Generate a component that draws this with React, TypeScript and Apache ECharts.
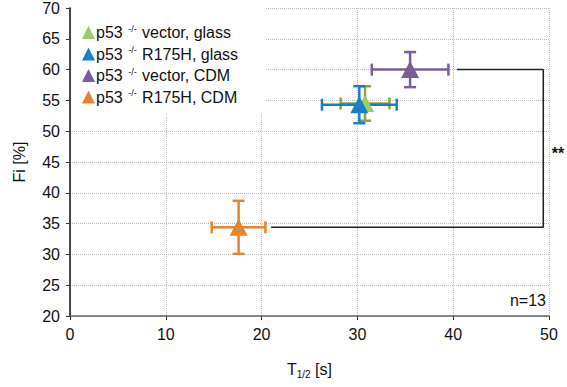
import React, { useEffect, useRef } from "react";
import * as echarts from "echarts";

const categories = [
  "p53 -/- vector, glass",
  "p53 -/- R175H, glass",
  "p53 -/- vector, CDM",
  "p53 -/- R175H, CDM",
];
const tHalf = [30.8, 30.2, 35.5, 17.6];
const tHalfErr = [2.55, 3.9, 4.0, 2.8];
const fi = [54.5, 54.3, 60.0, 34.4];
const fiErr = [2.8, 3.0, 2.85, 4.3];
const markerColors = ["#9dcc66", "#1a7fc4", "#7a5e99", "#e8832e"];
const barColors = ["#87a63e", "#1a80c6", "#7a5e99", "#e8832e"];

const bracketX = [40.4, 49.4, 49.4, 21.0];
const bracketY = [60, 60, 34.4, 34.4];

const yTicks = { min: 20, max: 70, interval: 5 };
const xTicks = { min: 0, max: 50, interval: 10 };

const FONT = "'Liberation Sans', Arial, Helvetica, sans-serif";

export default function App() {
  const ref = useRef<HTMLDivElement>(null);
  useEffect(() => {
    document.body.style.margin = "0";
    const chart = echarts.init(ref.current!, null, { renderer: "svg" });
    const series: any[] = [];
    categories.forEach((name, i) => {
      series.push({
        type: "custom",
        name: "err" + i,
        data: [[tHalf[i], fi[i], tHalfErr[i], fiErr[i]]],
        renderItem: (params: any, api: any) => {
          const x = api.value(0), y = api.value(1), ex = api.value(2), ey = api.value(3);
          const c = api.coord([x, y]);
          const l = api.coord([x - ex, y]);
          const r = api.coord([x + ex, y]);
          const t = api.coord([x, y + ey]);
          const b = api.coord([x, y - ey]);
          const cap = 6;
          const style = { stroke: barColors[i], lineWidth: 2.5 };
          const ln = (x1: number, y1: number, x2: number, y2: number) => ({
            type: "line",
            shape: { x1, y1, x2, y2 },
            style,
          });
          return {
            type: "group",
            children: [
              ln(l[0], c[1], r[0], c[1]),
              ln(c[0], t[1], c[0], b[1]),
              ln(l[0], c[1] - cap, l[0], c[1] + cap),
              ln(r[0], c[1] - cap, r[0], c[1] + cap),
              ln(c[0] - cap, t[1], c[0] + cap, t[1]),
              ln(c[0] - cap, b[1], c[0] + cap, b[1]),
            ],
          };
        },
        silent: true,
      });
      series.push({
        type: "scatter",
        name,
        data: [[tHalf[i], fi[i]]],
        symbol: "triangle",
        symbolSize: [18, 17],
        itemStyle: { color: markerColors[i], opacity: 1 },
      });
    });
    series.push({
      type: "line",
      name: "bracket",
      data: bracketX.map((x, i) => [x, bracketY[i]]),
      symbol: "none",
      lineStyle: { color: "#222", width: 1.5 },
      silent: true,
    });

    chart.setOption({
      animation: false,
      textStyle: { fontFamily: FONT },
      grid: { left: 70, right: 18, top: 8, bottom: 71 },
      legend: {
        data: categories,
        left: 72,
        top: 8,
        orient: "vertical",
        icon: "triangle",
        itemWidth: 13,
        itemHeight: 13,
        itemGap: 5,
        padding: [16, 28, 8, 10],
        backgroundColor: "#ffffff",
        formatter: (n: string) => n.replace("-/-", "{sup|-/-}"),
        textStyle: {
          fontFamily: FONT,
          fontSize: 16,
          color: "#111",
          padding: [0, 0, 0, -4],
          rich: {
            sup: { fontSize: 9, fontFamily: FONT, color: "#111", padding: [0, 1, 8, 1] },
          },
        },
      },
      xAxis: {
        type: "value",
        ...xTicks,
        name: "T{sub|1/2} [s]",
        nameLocation: "middle",
        nameGap: 44,
        nameTextStyle: {
          fontFamily: FONT,
          fontSize: 16,
          color: "#111",
          rich: { sub: { fontSize: 10, fontFamily: FONT, color: "#111", padding: [9, 0, 0, 0] } },
        },
        axisLine: { lineStyle: { color: "#666", width: 1.5 } },
        axisTick: { show: true, length: 4, lineStyle: { color: "#333" } },
        axisLabel: { fontSize: 16, color: "#111", margin: 10, fontFamily: FONT },
        splitLine: { show: true, lineStyle: { color: "#bbb", type: "dotted", width: 1 } },
      },
      yAxis: {
        type: "value",
        ...yTicks,
        name: "Fi [%]",
        nameLocation: "middle",
        nameGap: 43,
        nameTextStyle: { fontFamily: FONT, fontSize: 16, color: "#111" },
        axisLine: { show: true, lineStyle: { color: "#111", width: 1.5 } },
        axisTick: { show: true, length: 4, lineStyle: { color: "#333" } },
        axisLabel: { fontSize: 16, color: "#111", margin: 10, fontFamily: FONT },
        splitLine: { show: true, lineStyle: { color: "#bbb", type: "dotted", width: 1 } },
      },
      graphic: [
        {
          type: "text",
          x: 558,
          y: 153,
          style: {
            text: "**",
            fontSize: 16,
            fontWeight: "bold",
            fontFamily: FONT,
            fill: "#111",
            align: "center",
            verticalAlign: "middle",
          },
        },
        {
          type: "text",
          x: 546,
          y: 300,
          style: {
            text: "n=13",
            fontSize: 16,
            fontFamily: FONT,
            fill: "#111",
            align: "right",
            verticalAlign: "middle",
          },
        },
      ],
      series,
    });
    return () => chart.dispose();
  }, []);
  return <div ref={ref} style={{ width: 567, height: 387 }} />;
}
